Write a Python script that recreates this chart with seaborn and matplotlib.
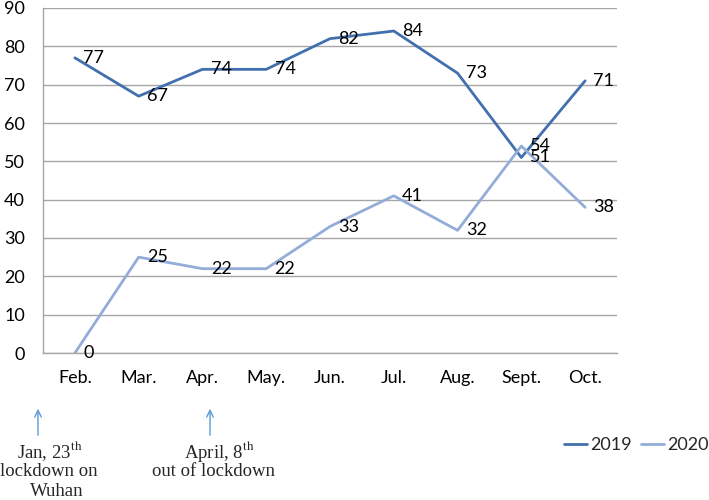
import matplotlib
matplotlib.use("Agg")
import matplotlib.pyplot as plt
import seaborn as sns
import pandas as pd
from matplotlib.lines import Line2D

months = ["Feb.", "Mar.", "Apr.", "May.", "Jun.", "Jul.", "Aug.", "Sept.", "Oct."]
values_2019 = [77, 67, 74, 74, 82, 84, 73, 51, 71]
values_2020 = [0, 25, 22, 22, 33, 41, 32, 54, 38]
series_names = ["2019", "2020"]
yticks = [0, 10, 20, 30, 40, 50, 60, 70, 80, 90]

sns.set_theme(style="white")
plt.rcParams['font.family'] = ['Lato', 'DejaVu Sans']

df = pd.DataFrame({
    "pos": list(range(len(months))) * 2,
    "value": values_2019 + values_2020,
    "year": [series_names[0]] * len(months) + [series_names[1]] * len(months),
})

colors = {"2019": "#4270AE", "2020": "#93ACD8"}
FS = 13

fig = plt.figure(figsize=(7.09, 5.0), dpi=100)
ax = fig.add_axes([43 / 709, 1 - 353 / 500, (617 - 43) / 709, (353 - 8) / 500])

sns.lineplot(data=df, x="pos", y="value", hue="year", palette=colors,
             linewidth=2.0, ax=ax, legend=False, sort=False)

ax.set_xlim(-0.5, len(months) - 0.5)
ax.set_ylim(0, 90)
ax.set_yticks(yticks)
ax.set_xticks(range(len(months)))
ax.set_xticklabels(months)
ax.tick_params(axis="y", labelsize=FS, colors="#000000", length=0, pad=13)
ax.tick_params(axis="x", labelsize=FS, colors="#000000", length=0, pad=12)
ax.set_xlabel("")
ax.set_ylabel("")
ax.yaxis.grid(True, color="#A6A6A6", linewidth=1.0)
ax.xaxis.grid(False)
for s in ["top", "right"]:
    ax.spines[s].set_visible(False)
for s in ["left", "bottom"]:
    ax.spines[s].set_color("#A6A6A6")
    ax.spines[s].set_linewidth(1.0)

# data labels
for vals in (values_2019, values_2020):
    for i, v in enumerate(vals):
        ax.annotate(str(v), (i, v), xytext=(6, 0), textcoords="offset points",
                    ha="left", va="center", fontsize=FS, color="#000000")

# legend
handles = [Line2D([], [], color=colors[n], linewidth=2.0) for n in series_names]
fig.legend(handles, series_names, loc="center", bbox_to_anchor=(636 / 709, 1 - 445 / 500),
           ncol=2, frameon=False, fontsize=FS, handlelength=1.3, handletextpad=0.15,
           columnspacing=0.5, borderpad=0.0, borderaxespad=0.0)

# annotations
serif = ['Liberation Serif', 'DejaVu Serif']
arrow_col = "#5B9BD5"
for xa in (38, 210):
    ax.annotate("", xy=(xa / 709, 1 - 406 / 500), xytext=(xa / 709, 1 - 438 / 500),
                xycoords="figure fraction", textcoords="figure fraction",
                arrowprops=dict(arrowstyle="->", color=arrow_col, lw=1.0),
                annotation_clip=False)

SFS = 13.5
fig.text(50 / 709, 1 - 451 / 500, r"Jan, 23$^{\mathrm{th}}$", ha="center", va="center",
         fontsize=SFS, family=serif, math_fontfamily="stix")
fig.text(49 / 709, 1 - 472 / 500, "lockdown on", ha="center", va="center",
         fontsize=SFS, family=serif)
fig.text(57 / 709, 1 - 492 / 500, "Wuhan", ha="center", va="center",
         fontsize=SFS, family=serif)
fig.text(219 / 709, 1 - 451 / 500, r"April, 8$^{\mathrm{th}}$", ha="center", va="center",
         fontsize=SFS, family=serif, math_fontfamily="stix")
fig.text(214 / 709, 1 - 472 / 500, "out of lockdown", ha="center", va="center",
         fontsize=SFS, family=serif)

fig.savefig("out.png", dpi=100)
